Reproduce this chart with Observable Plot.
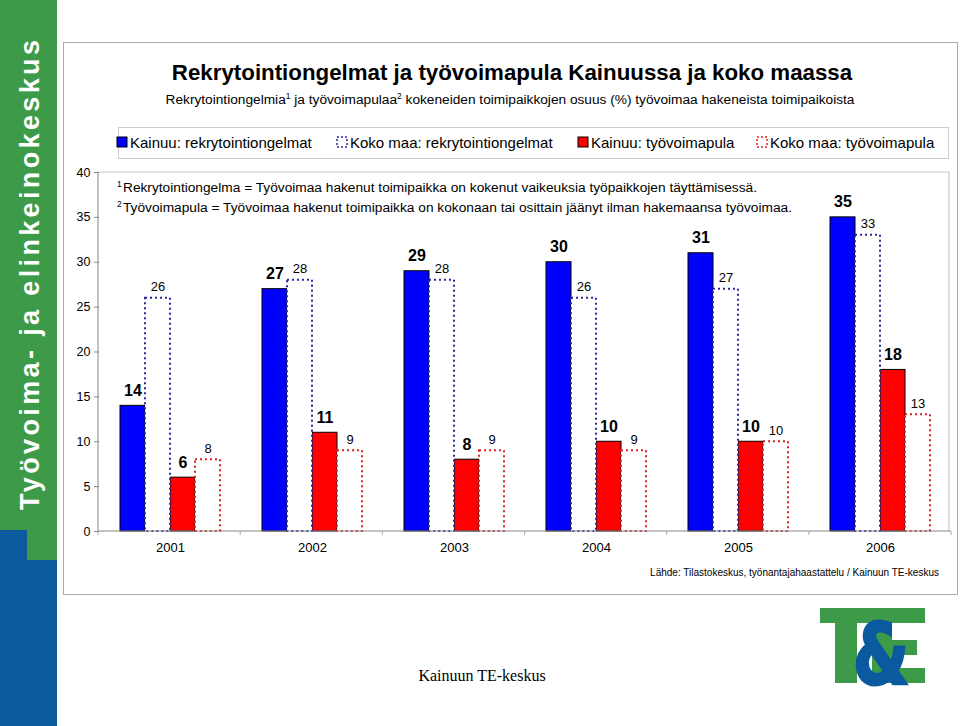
<!DOCTYPE html>
<html><head><meta charset="utf-8">
<script src="https://cdn.jsdelivr.net/npm/d3@7"></script>
<script src="https://cdn.jsdelivr.net/npm/@observablehq/plot@0.6"></script>
<style>
body{margin:0;background:#fff;}
#wrap{position:relative;width:960px;height:726px;overflow:hidden;font-family:"Liberation Sans",Arial,sans-serif;}
#plot{position:absolute;left:0;top:0;}
#deco{position:absolute;left:0;top:0;pointer-events:none;}
</style></head><body>
<div id="wrap"><div id="plot"></div><svg id="deco" width="960" height="726"></svg></div>
<script>
// ---- data ----
const years = ["2001", "2002", "2003", "2004", "2005", "2006"];
const series = ["Kainuu: rekrytointiongelmat", "Koko maa: rekrytointiongelmat", "Kainuu: työvoimapula", "Koko maa: työvoimapula"];
const kainuuRekry = [14, 27, 29, 30, 31, 35];
const kokoRekry = [26, 28, 28, 26, 27, 33];
const kainuuPula = [6, 11, 8, 10, 10, 18];
const kokoPula = [8, 9, 9, 9, 10, 13];
const yTicks = [0, 5, 10, 15, 20, 25, 30, 35, 40];
const colors = ["#0000ff", "#2a2aa0", "#ff0000", "#dd2222"];

const title = "Rekrytointiongelmat ja työvoimapula Kainuussa ja koko maassa";
const source = "Lähde: Tilastokeskus, työnantajahaastattelu / Kainuun TE-keskus";
const footer = "Kainuun TE-keskus";
const sidebar = "Työvoima- ja elinkeinokeskus";

const valueLists = [kainuuRekry, kokoRekry, kainuuPula, kokoPula];
const rows = [];
years.forEach((yr, i) => series.forEach((s, j) => rows.push({year: yr, series: s, value: valueLists[j][i], kainuu: j % 2 === 0})));
const kRows = rows.filter(d => d.kainuu);
const mRows = rows.filter(d => !d.kainuu);

const font = "Liberation Sans, Arial, sans-serif";
const chart = Plot.plot({
  width: 960, height: 600,
  marginLeft: 98, marginRight: 9, marginTop: 172, marginBottom: 69,
  style: {background: "transparent", fontFamily: font, fontSize: "12px", color: "#000"},
  fx: {domain: years, paddingInner: 0, paddingOuter: 0, axis: "bottom", label: null, tickSize: 0, tickPadding: 11},
  x: {domain: series, paddingInner: 0, paddingOuter: 0.735, axis: null},
  y: {domain: [0, 40], ticks: yTicks, label: null, tickSize: 5, tickPadding: 4},
  color: {domain: series, range: colors},
  marks: [
    Plot.barY(kRows, {fx: "year", x: "series", y: "value", fill: "series", stroke: "#000", strokeWidth: 1}),
    Plot.barY(mRows, {fx: "year", x: "series", y: "value", fill: "white", stroke: "series", strokeWidth: 2, strokeDasharray: "2,3"}),
    Plot.text(kRows, {fx: "year", x: "series", y: "value", text: "value", lineAnchor: "bottom", dy: -10, fontSize: 16, fontWeight: "bold", fill: "#000"}),
    Plot.text(mRows, {fx: "year", x: "series", y: "value", text: "value", lineAnchor: "bottom", dy: -7, fontSize: 13, fill: "#000"})
  ]
});
document.getElementById("plot").appendChild(chart);

// axis styling and lines derived from the scales
const svgP = d3.select(chart.tagName.toLowerCase() === "svg" ? chart : chart.querySelector("svg"));
svgP.selectAll("[aria-label^='fx-axis']").style("font-size", "13px").selectAll("text").style("font-size", "13px");
svgP.selectAll("[aria-label^='y-axis']").style("font-size", "12.5px").selectAll("text").style("font-size", "12.5px");
svgP.selectAll("[aria-label='y-axis tick'] path, [aria-label='y-axis tick'] line, [aria-label='y-axis'] line").style("stroke", "#888");
const ys = chart.scale("y"), fxs = chart.scale("fx");
const x0 = fxs.range[0], x1 = fxs.range[1];
const y0 = ys.apply(0), yTop = ys.apply(40);
svgP.append("line").attr("x1", x0).attr("x2", x1 - 2).attr("y1", yTop).attr("y2", yTop).attr("stroke", "#c8c8c8");
svgP.append("line").attr("x1", x1 - 2).attr("x2", x1 - 2).attr("y1", yTop).attr("y2", y0).attr("stroke", "#bbb");
svgP.append("line").attr("x1", x0).attr("x2", x1).attr("y1", y0).attr("y2", y0).attr("stroke", "#888");
svgP.append("line").attr("x1", x0).attr("x2", x0).attr("y1", yTop).attr("y2", y0).attr("stroke", "#888");
// category separator ticks
for (let k = 0; k <= years.length; k++) {
  const xx = x0 + k * (x1 - x0) / years.length;
  svgP.append("line").attr("x1", xx).attr("x2", xx).attr("y1", y0).attr("y2", y0 + 4).attr("stroke", "#aaa");
}

// ---- decoration ----
const deco = d3.select("#deco");
// sidebar
deco.append("rect").attr("x", 0).attr("y", 0).attr("width", 57).attr("height", 726).attr("fill", "#3c9a48");
deco.append("rect").attr("x", 0).attr("y", 530).attr("width", 27).attr("height", 196).attr("fill", "#0b5aa0");
deco.append("rect").attr("x", 0).attr("y", 560).attr("width", 57).attr("height", 166).attr("fill", "#0b5aa0");
deco.append("text").attr("transform", "translate(39,275) rotate(-90)").attr("text-anchor", "middle")
  .attr("font-family", font).attr("font-weight", "bold").attr("font-size", 27).attr("fill", "#fff")
  .attr("textLength", 470).attr("lengthAdjust", "spacing").text(sidebar);
// frame
deco.append("rect").attr("x", 63.5).attr("y", 42.5).attr("width", 894).attr("height", 552).attr("fill", "none").attr("stroke", "#aaa");
// title
deco.append("text").attr("x", 512).attr("y", 80).attr("text-anchor", "middle").attr("font-family", font)
  .attr("font-weight", "bold").attr("font-size", 22.3).text(title);
const sub = deco.append("text").attr("x", 510).attr("y", 104).attr("text-anchor", "middle").attr("font-family", font).attr("font-size", 13.7);
sub.append("tspan").text("Rekrytointiongelmia");
sub.append("tspan").attr("font-size", 8.5).attr("dy", -5).text("1");
sub.append("tspan").attr("dy", 5).text(" ja työvoimapulaa");
sub.append("tspan").attr("font-size", 8.5).attr("dy", -5).text("2");
sub.append("tspan").attr("dy", 5).text(" kokeneiden toimipaikkojen osuus (%) työvoimaa hakeneista toimipaikoista");
// legend
deco.append("rect").attr("x", 118.5).attr("y", 127.5).attr("width", 830).attr("height", 31).attr("fill", "none").attr("stroke", "#ccc");
const legX = [117, 337, 578, 757];
series.forEach((s, j) => {
  const g = deco.append("g");
  if (j % 2 === 0) {
    g.append("rect").attr("x", legX[j]).attr("y", 137).attr("width", 10).attr("height", 10).attr("fill", colors[j]).attr("stroke", "#000");
  } else {
    g.append("rect").attr("x", legX[j]).attr("y", 137).attr("width", 10).attr("height", 10).attr("fill", "#fff")
      .attr("stroke", colors[j]).attr("stroke-width", 1.5).attr("stroke-dasharray", "2,2");
  }
  g.append("text").attr("x", legX[j] + 13).attr("y", 148).attr("font-family", font).attr("font-size", 15).text(s);
});
// notes
const notes = [
  ["1", "Rekrytointiongelma = Työvoimaa hakenut toimipaikka on kokenut vaikeuksia työpaikkojen täyttämisessä.", 634],
  ["2", "Työvoimapula = Työvoimaa hakenut toimipaikka on kokonaan tai osittain jäänyt ilman hakemaansa työvoimaa.", 669]
];
notes.forEach((n, i) => {
  const t = deco.append("text").attr("x", 117).attr("y", 192 + i * 20).attr("font-family", font).attr("font-size", 13.7);
  t.append("tspan").attr("font-size", 8.5).attr("dy", -5).text(n[0]);
  t.append("tspan").attr("x", 123).attr("dy", 5).attr("textLength", n[2]).attr("lengthAdjust", "spacingAndGlyphs").text(n[1]);
});
// source
deco.append("text").attr("x", 939).attr("y", 576).attr("text-anchor", "end").attr("font-family", font).attr("font-size", 10).text(source);
// footer
deco.append("text").attr("x", 482).attr("y", 681).attr("text-anchor", "middle").attr("font-family", "Liberation Serif, Times New Roman, serif").attr("font-size", 16).text(footer);
// logo
const lg = deco.append("g");
const green = "#3c9a48", blue = "#0b5aa0";
lg.append("rect").attr("x", 820).attr("y", 608).attr("width", 52).attr("height", 15).attr("fill", green);
lg.append("rect").attr("x", 835).attr("y", 608).attr("width", 22).attr("height", 75).attr("fill", green);
lg.append("rect").attr("x", 872).attr("y", 608).attr("width", 20).attr("height", 75).attr("fill", green);
lg.append("rect").attr("x", 872).attr("y", 608).attr("width", 53).attr("height", 15).attr("fill", green);
lg.append("rect").attr("x", 872).attr("y", 640).attr("width", 45).attr("height", 15).attr("fill", green);
lg.append("rect").attr("x", 872).attr("y", 668).attr("width", 53).attr("height", 15).attr("fill", green);
lg.append("text").attr("x", 881).attr("y", 684).attr("text-anchor", "middle").attr("font-family", "DejaVu Sans, sans-serif")
  .attr("font-weight", "bold").attr("font-size", 84).attr("fill", blue).attr("stroke", blue).attr("stroke-width", 3)
  .attr("textLength", 56).attr("lengthAdjust", "spacingAndGlyphs").text("&");
</script>
</body></html>
